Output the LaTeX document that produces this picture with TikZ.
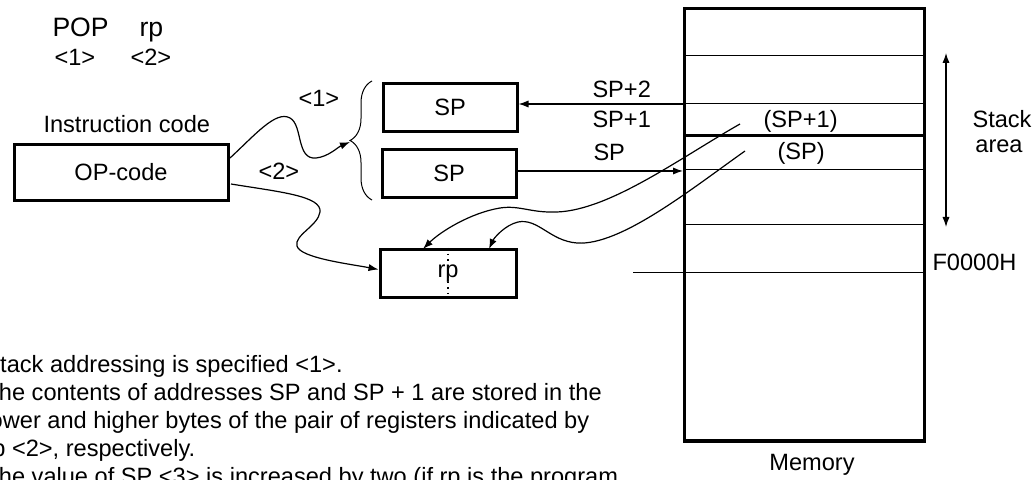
\documentclass[tikz,border=0pt]{standalone}
\usepackage{fontspec}
\setmainfont{Liberation Sans}
\usetikzlibrary{arrows.meta, decorations.pathreplacing}
\tikzset{reg/.style={draw, line width=1.5pt, minimum width=67pt, minimum height=24pt, inner sep=0pt}}
\tikzset{lbl/.style={anchor=base west, inner sep=0pt}}
\tikzset{wire/.style={line width=0.6pt, -{Latex[length=5pt,width=3.6pt]}}}

\begin{document}
\begin{tikzpicture}[x=0.5pt, y=-0.5pt, font=\fontsize{11.8}{14}\selectfont, line width=0.5pt]
	\useasboundingbox (0,0) rectangle (1033,480);
	
	%%% NODES %%%
	
	% INSTRUCTION
	\node[lbl, font=\fontsize{13.3}{16}\selectfont] (pop) at (52,37) {POP};
	\node[lbl, font=\fontsize{13.3}{16}\selectfont] (oprp) at (139,37) {rp};
	\node[lbl] (n1) at (54,66) {<1>};
	\node[lbl] (n2) at (130,66) {<2>};
	\node[lbl] (instr) at (43,133) {Instruction code};
	\node[reg, minimum width=107pt, minimum height=28pt] (opcode) at (121,172.5) {OP-code};
	\node[lbl] (l1) at (298,107) {<1>};
	\node[lbl] (l2) at (258,180) {<2>};
	
	% REGISTERS
	\node[reg] (sphigh) at (450,107.5) {SP};
	\node[reg] (splow) at (449,173.5) {SP};
	\node[reg, minimum width=68pt] (rp) at (448,273.5) {rp};
	
	% MEMORY
	\node[draw, line width=1.5pt, minimum width=120pt, minimum height=216pt, inner sep=0pt] (memory) at (804,225) {};
	\node[lbl] (sp2) at (592,98) {SP+2};
	\node[lbl] (sp1) at (592,128) {SP+1};
	\node[lbl] (sp0) at (593,161) {SP};
	\node[lbl] (msp1) at (763,128) {(SP+1)};
	\node[lbl] (msp0) at (777,160) {(SP)};
	\node[lbl] (stack) at (972,128) {Stack};
	\node[anchor=base, inner sep=0pt] (area) at (999,153) {area};
	\node[lbl] (f0000) at (932,271) {F0000H};
	\node[anchor=base, inner sep=0pt] (memlbl) at (812,470) {Memory};
	
	% NOTES
	\node[anchor=base west, align=left, inner sep=0pt, font=\fontsize{11.8}{13.9}\selectfont] (notes) at (-16,484) {Stack addressing is specified <1>.\\
		The contents of addresses SP and SP + 1 are stored in the\\
		lower and higher bytes of the pair of registers indicated by\\
		rp <2>, respectively.\\
		The value of SP <3> is increased by two (if rp is the program};
	
	%%% EXTRA ARROW NODES %%%
	\coordinate (bracetip) at (350,142);
	\coordinate (op1) at (230,158);
	\coordinate (op2) at (231,184);
	\coordinate (m2) at (683,104);
	\coordinate (m0) at (683,171);
	\coordinate (hi) at (740,124);
	\coordinate (lo) at (745,151);
	\coordinate (stacktop) at (946,53);
	\coordinate (stackbot) at (946,227);
	
	%%% MEMORY ROWS %%%
	\foreach \y in {56,104,170,225} {
		\draw (683,\y) -- (925,\y);
	}
	\draw[line width=1.5pt] (683,136) -- (925,136);
	\draw (633,273) -- (925,273);
	\draw[dotted, line width=0.8pt] (rp.north) -- (rp.south);
	
	% BRACE
	\draw[decorate, decoration={brace, amplitude=11pt}] (372,200) -- (372,81);
	
	%%% ARROWS %%%
	\draw[wire] (op1) .. controls (255,135) and (276,110) .. (290,118) .. controls (303,125) and (296,160) .. (316,158) .. controls (328,157) and (338,147) .. (bracetip);
	\draw[wire] (op2) .. controls (280,192) and (322,196) .. (320,212) .. controls (318,226) and (294,235) .. (297,246) .. controls (300,258) and (350,264) .. ([yshift=2pt]rp.west);
	\draw[wire] (m2) -- (sphigh.east |- m2);
	\draw[wire] (splow.east |- m0) -- (m0);
	\draw[wire] (hi) .. controls (680,158) and (610,210) .. (557,212) .. controls (530,213) and (520,205) .. (500,208) .. controls (470,213) and (440,232) .. (423,249);
	\draw[wire] (lo) .. controls (690,190) and (620,246) .. (577,243) .. controls (550,241) and (538,218) .. (518,222) .. controls (505,225) and (494,238) .. (489,249);
	\draw[line width=0.6pt, {Latex[length=5pt,width=3.6pt]}-{Latex[length=5pt,width=3.6pt]}] (stacktop) -- (stackbot);
	
\end{tikzpicture}
\end{document}
